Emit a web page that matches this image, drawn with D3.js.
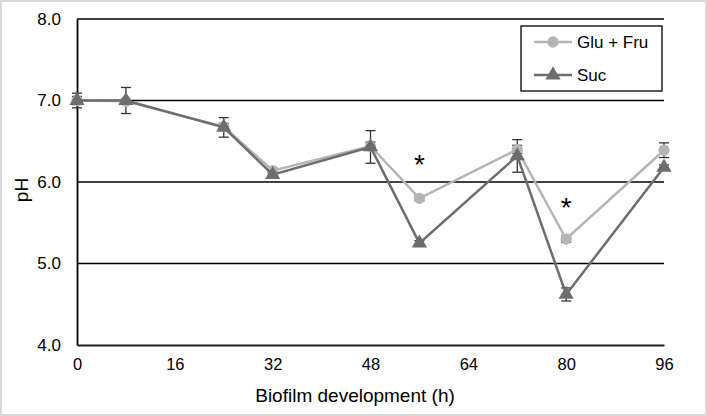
<!DOCTYPE html>
<html>
<head>
<meta charset="utf-8">
<script src="https://cdn.jsdelivr.net/npm/d3@7"></script>
<style>
  body { margin: 0; background: #fff; }
  svg { font-family: Arial, "Liberation Sans", sans-serif; }
</style>
</head>
<body>
<div id="chart"></div>
<script>
// --- Data ---
const hours = [0, 8, 24, 32, 48, 56, 72, 80, 96];
const gluFru = [7.00, 6.99, 6.68, 6.14, 6.44, 5.80, 6.40, 5.30, 6.39];
const suc = [7.00, 7.00, 6.67, 6.09, 6.43, 5.25, 6.32, 4.62, 6.18];
const gluFruErr = [0.05, 0.03, 0.04, 0.03, 0.05, 0.03, 0.05, 0.04, 0.09];
const sucErr = [0.09, 0.16, 0.12, 0.03, 0.20, 0.03, 0.20, 0.08, 0.03];
const xTicks = [0, 16, 32, 48, 64, 80, 96];
const yTicks = [4, 5, 6, 7, 8];
const starHours = [56, 80];
const starValues = [6.10, 5.57];

const W = 707, H = 416;
const margin = { top: 19, right: 43, bottom: 71, left: 77 };
const width = W - margin.left - margin.right;
const height = H - margin.top - margin.bottom;

const svg = d3.select("#chart").append("svg")
    .attr("width", W).attr("height", H);

// outer frame
svg.append("rect").attr("x", 1).attr("y", 1).attr("width", W - 2).attr("height", H - 2)
    .attr("fill", "#fff").attr("stroke", "#d9d9d9").attr("stroke-width", 2);

const g = svg.append("g").attr("transform", `translate(${margin.left},${margin.top})`);

const x = d3.scaleLinear().domain([0, 96]).range([0, width]);
const y = d3.scaleLinear().domain([4, 8]).range([height, 0]);

// Grid
g.append("g").selectAll("line").data(yTicks.filter(d => d > 4)).enter().append("line")
    .attr("x1", 0).attr("x2", width)
    .attr("y1", d => y(d)).attr("y2", d => y(d))
    .attr("stroke", "#000").attr("stroke-width", 1.5);

// Axes
const yAxis = g.append("g").call(d3.axisLeft(y).tickValues(yTicks).tickFormat(d3.format(".1f")).tickSize(0).tickPadding(16));
yAxis.select(".domain").attr("stroke", "#000").attr("stroke-width", 1.8);
yAxis.selectAll("text").attr("font-size", 17).attr("fill", "#000");

const xAxis = g.append("g").attr("transform", `translate(0,${height})`)
    .call(d3.axisBottom(x).tickValues(xTicks).tickSize(0).tickPadding(13));
xAxis.select(".domain").attr("stroke", "#222").attr("stroke-width", 2.2);
xAxis.selectAll("text").attr("font-size", 16.5).attr("fill", "#000");

// Axis labels
svg.append("text").attr("x", 355).attr("y", 402).attr("text-anchor", "middle")
    .attr("font-size", 19).text("Biofilm development (h)");
svg.append("text").attr("transform", "translate(28,190) rotate(-90)").attr("text-anchor", "middle")
    .attr("font-size", 19).text("pH");

const series = [
    { name: "Glu + Fru", values: gluFru, err: gluFruErr, color: "#b5b5b5", shape: d3.symbolCircle },
    { name: "Suc", values: suc, err: sucErr, color: "#6d6d6d", shape: d3.symbolTriangle }
];

const line = d3.line().x((d, i) => x(hours[i])).y(d => y(d));

// Error bars
series.forEach(s => {
    const eg = g.append("g");
    s.values.forEach((v, i) => {
        const cx = x(hours[i]);
        const y1 = y(v + s.err[i]), y2 = y(v - s.err[i]);
        eg.append("line").attr("x1", cx).attr("x2", cx).attr("y1", y1).attr("y2", y2)
            .attr("stroke", "#333").attr("stroke-width", 1.3);
        [y1, y2].forEach(yy => eg.append("line").attr("x1", cx - 5).attr("x2", cx + 5)
            .attr("y1", yy).attr("y2", yy).attr("stroke", "#333").attr("stroke-width", 1.3));
    });
});

// Lines and markers
series.forEach(s => {
    g.append("path").datum(s.values).attr("d", line)
        .attr("fill", "none").attr("stroke", s.color).attr("stroke-width", 2.5);
    g.selectAll(null).data(s.values).enter().append("path")
        .attr("d", d3.symbol().type(s.shape).size(100))
        .attr("transform", (d, i) => `translate(${x(hours[i])},${y(d)})`)
        .attr("fill", s.color);
});

// Significance stars
g.selectAll(".star").data(starHours).enter().append("text")
    .attr("x", d => x(d)).attr("y", (d, i) => y(starValues[i]))
    .attr("text-anchor", "middle").attr("font-size", 28).text("*");

// Legend
const lg = svg.append("g").attr("transform", "translate(521,26)");
lg.append("rect").attr("width", 141).attr("height", 65)
    .attr("fill", "#fff").attr("stroke", "#000").attr("stroke-width", 1.3);
series.forEach((s, i) => {
    const ly = 16 + i * 33;
    lg.append("line").attr("x1", 13).attr("x2", 51).attr("y1", ly).attr("y2", ly)
        .attr("stroke", s.color).attr("stroke-width", 2.5);
    lg.append("path").attr("d", d3.symbol().type(s.shape).size(100))
        .attr("transform", `translate(32,${ly})`).attr("fill", s.color);
    lg.append("text").attr("x", 56).attr("y", ly + 6).attr("font-size", 17).text(s.name);
});
</script>
</body>
</html>
